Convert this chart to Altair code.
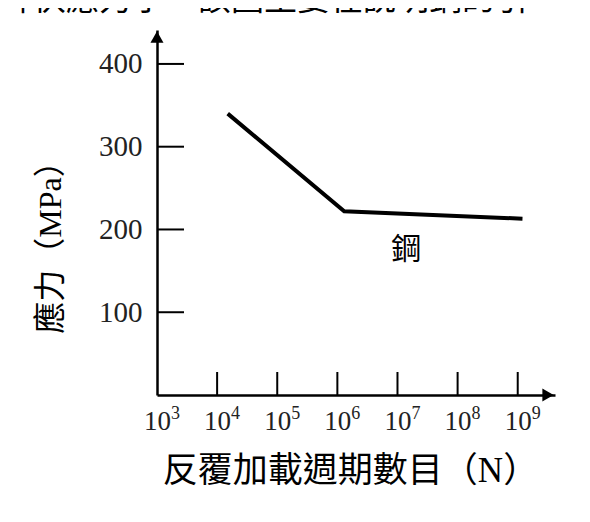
import altair as alt
import pandas as pd

# ---- data ----
cycles = [1.5e4, 1.3e6, 1.2e9]          # N (log axis)
stress = [340, 222, 213]                 # MPa

x_ticks = [1e3, 1e4, 1e5, 1e6, 1e7, 1e8, 1e9]
x_tick_base = "10"
x_tick_exponents = ["3", "4", "5", "6", "7", "8", "9"]
y_ticks = [100, 200, 300, 400]

x_title = "反覆加載週期數目（N）"
y_title = "應力（MPa）"
curve_label = ["鋼"]
curve_label_x = [1.4e7]
curve_label_y = [175]
top_fragment = "降伏應力小，該圖主要在說明鋼的引"

x_domain = [1e3, 10 ** 9.62]
y_domain = [0, 441]

SERIF = "Liberation Serif"
CJK = "Liberation Serif, Noto Sans CJK TC"

W, H = 398, 365

xs = alt.Scale(type="log", domain=x_domain, nice=False)
ys = alt.Scale(domain=y_domain, nice=False, zero=False)

x_axis = alt.Axis(
    values=x_ticks, labelExpr="'%s'" % x_tick_base, ticks=False, grid=False,
    domainColor="black", domainWidth=2.5,
    labelFont=SERIF, labelFontSize=27, labelColor="#222", labelPadding=13,
    labelFlush=False, labelOverlap=False, labelBound=False,
    title=x_title, titleFont=CJK, titleFontSize=35, titleFontWeight="normal",
    titleColor="black", titleX=193, titleY=75, titleBaseline="middle", titleAlign="center")
y_axis = alt.Axis(
    values=y_ticks, ticks=False, grid=False,
    domainColor="black", domainWidth=2.5,
    labelFont=SERIF, labelFontSize=29, labelColor="#222", labelPadding=15,
    labelFlush=False, labelOverlap=False,
    title=y_title, titleFont=CJK, titleFontSize=32, titleFontWeight="normal",
    titleColor="black", titleAngle=270, titleX=-107, titleY=209,
    titleBaseline="middle", titleAlign="center")

X = alt.X("N:Q", scale=xs, axis=x_axis)
Y = alt.Y("S:Q", scale=ys, axis=y_axis)

line_df = pd.DataFrame({"N": cycles, "S": stress})
line = alt.Chart(line_df).mark_line(color="black", strokeWidth=4, strokeJoin="miter").encode(x=X, y=Y)

ytick_df = pd.DataFrame({"S": y_ticks})
yticks = alt.Chart(ytick_df).mark_rule(color="black", strokeWidth=2).encode(
    y=Y, x=alt.value(0), x2=alt.value(27))

xtick_df = pd.DataFrame({"N": x_ticks[1:]})
xticks = alt.Chart(xtick_df).mark_rule(color="black", strokeWidth=2).encode(
    x=X, y=alt.value(H), y2=alt.value(H - 23))

exp_df = pd.DataFrame({"N": x_ticks, "S": [y_domain[0]] * len(x_ticks), "e": x_tick_exponents})
exps = alt.Chart(exp_df).mark_text(font=SERIF, fontSize=18, color="#222", align="left",
                                   baseline="alphabetic", dx=14, dy=24).encode(
    x=X, y=Y, text="e:N")

up_df = pd.DataFrame({"N": [x_domain[0]], "S": [y_domain[1]]})
up_arrow = alt.Chart(up_df).mark_point(shape="triangle-up", filled=True, size=170,
                                       color="black", opacity=1, yOffset=7).encode(x=X, y=Y)

right_df = pd.DataFrame({"N": [x_domain[1]], "S": [y_domain[0]]})
right_arrow = alt.Chart(right_df).mark_point(shape="triangle-right", filled=True, size=170,
                                             color="black", opacity=1, xOffset=-7).encode(x=X, y=Y)

lab_df = pd.DataFrame({"N": curve_label_x, "S": curve_label_y, "t": curve_label})
lab = alt.Chart(lab_df).mark_text(font="Noto Sans CJK TC", fontSize=30, color="black").encode(
    x=X, y=Y, text="t:N")

top_df = pd.DataFrame({"t": [top_fragment]})
top = alt.Chart(top_df).mark_text(font="Noto Sans CJK TC", fontSize=33, color="black",
                                  align="left", baseline="alphabetic").encode(
    x=alt.value(-157), y=alt.value(-20), text="t:N")

chart = alt.layer(line, yticks, xticks, exps, up_arrow, right_arrow, lab, top).properties(
    width=W, height=H, background="white",
    autosize=alt.AutoSizeParams(type="none"),
    padding={"left": 149, "top": 22, "right": 27, "bottom": 113},
).configure_view(stroke=None)

chart.save("out.html", embed_options={"renderer": "svg", "actions": False})
